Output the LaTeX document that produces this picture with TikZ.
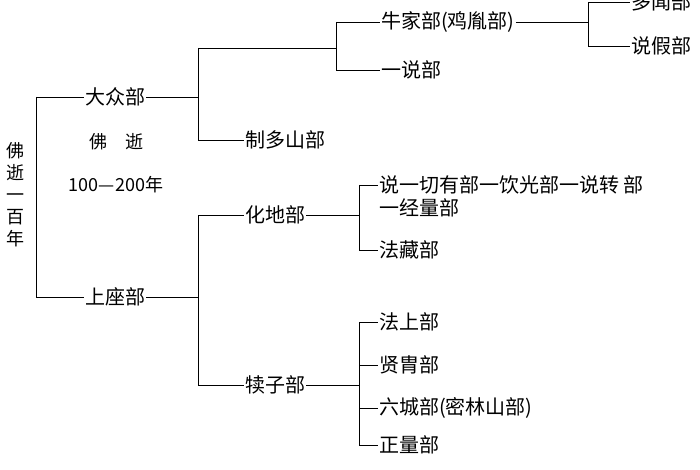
\documentclass[tikz,border=0pt]{standalone}
\usepackage{fontspec}
\newfontfamily\cjk{Noto Sans CJK SC}
\begin{document}
\begin{tikzpicture}[
  x=1pt, y=-1pt,
  school/.style={anchor=west, inner sep=1pt, font=\cjk\fontsize{20}{23}\selectfont},
  note/.style={inner sep=1pt, font=\cjk\fontsize{18}{22}\selectfont},
  br/.style={thick},
]
\useasboundingbox (0,0) rectangle (700,470);
% root
\node [note, align=center] (root) at (15,195) {佛\\逝\\一\\百\\年};
\coordinate (b0t) at (36,97);
\coordinate (b0b) at (36,297);
\draw [br] (b0t) -- (b0b);
\node [school] (dz) at (84,97) {大众部};
\node [school] (sz) at (84,297) {上座部};
\draw [br] (b0t) -- (dz.west);
\draw [br] (b0b) -- (sz.west);
\node [note] (fs) at (116,142) {佛\quad 逝};
\node [note] (yr) at (116,185) {100—200年};
% mahasanghika
\coordinate (b1t) at (198,48);
\coordinate (b1b) at (198,140);
\draw [br] (b1t) -- (b1b);
\draw [br] (dz.east) -- (dz.east -| b1t);
\coordinate (b2t) at (336,22);
\coordinate (b2b) at (336,70);
\draw [br] (b2t) -- (b2b);
\draw [br] (b1t) -- (b1t -| b2t);
\node [school] (nj) at (380,22) {牛家部(鸡胤部)};
\node [school] (ys) at (380,70) {一说部};
\draw [br] (b2t) -- (nj.west);
\draw [br] (b2b) -- (ys.west);
\coordinate (b3t) at (588,2);
\coordinate (b3b) at (588,46);
\draw [br] (b3t) -- (b3b);
\draw [br] (nj.east) -- (nj.east -| b3t);
\node [school] (dw) at (630,2) {多闻部};
\node [school] (sj) at (630,46) {说假部};
\draw [br] (b3t) -- (dw.west);
\draw [br] (b3b) -- (sj.west);
\node [school] (zd) at (244,140) {制多山部};
\draw [br] (b1b) -- (zd.west);
% sthavira
\coordinate (b4t) at (198,215);
\coordinate (b4b) at (198,385);
\draw [br] (b4t) -- (b4b);
\draw [br] (sz.east) -- (sz.east -| b4t);
\node [school] (hd) at (244,215) {化地部};
\node [school] (dzb) at (244,385) {犊子部};
\draw [br] (b4t) -- (hd.west);
\draw [br] (b4b) -- (dzb.west);
\coordinate (b5t) at (359,185);
\coordinate (b5b) at (359,250);
\draw [br] (b5t) -- (b5b);
\draw [br] (hd.east) -- (hd.east -| b5t);
\node [school, align=left] (sy) at (378,196) {说一切有部一饮光部一说转 部\\一经量部};
\node [school] (fz) at (378,250) {法藏部};
\draw [br] (b5t) -- (b5t -| sy.west);
\draw [br] (b5b) -- (fz.west);
\coordinate (b6t) at (359,322);
\coordinate (b6b) at (359,445);
\draw [br] (b6t) -- (b6b);
\draw [br] (dzb.east) -- (dzb.east -| b6t);
\node [school] (fsb) at (378,322) {法上部};
\node [school] (xz) at (378,365) {贤胄部};
\node [school] (lc) at (378,408) {六城部(密林山部)};
\node [school] (zl) at (378,445) {正量部};
\draw [br] (b6t) -- (fsb.west);
\draw [br] (b6t |- xz.west) -- (xz.west);
\draw [br] (b6t |- lc.west) -- (lc.west);
\draw [br] (b6b) -- (zl.west);
\end{tikzpicture}
\end{document}
